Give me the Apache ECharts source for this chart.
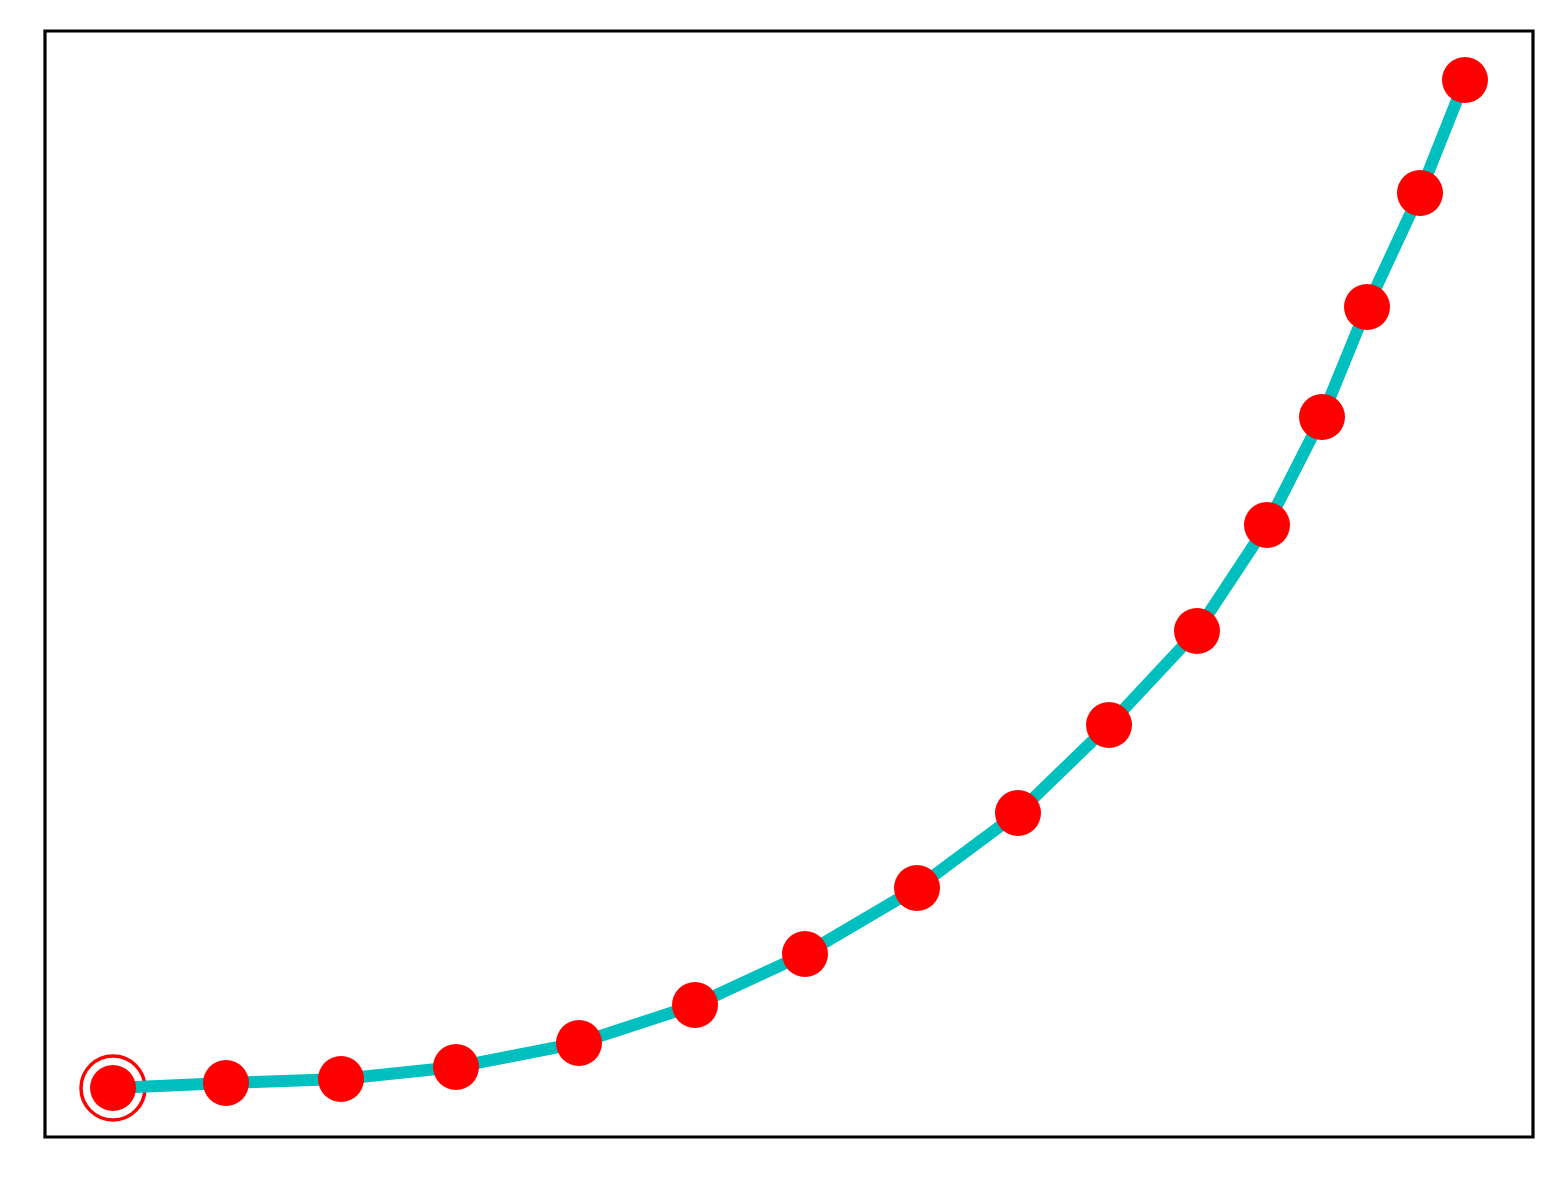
<!DOCTYPE html>
<html>
<head>
<meta charset="utf-8">
<script src="https://cdn.jsdelivr.net/npm/echarts@6/dist/echarts.min.js"></script>
<style>
  html, body { margin: 0; padding: 0; background: #fff; }
  #chart { width: 1562px; height: 1183px; }
</style>
</head>
<body>
<div id="chart"></div>
<script>
// point positions (arbitrary units, no ticks shown)
const xValues = [68, 181, 296, 411, 534, 650, 760, 872, 973, 1064, 1152, 1222, 1277, 1322, 1375, 1420];
const yValues = [49, 54, 58, 70, 94, 132, 183, 249, 324, 412, 506, 612, 720, 830, 944, 1057];
const startPoint = [xValues[0], yValues[0]];

const myChart = echarts.init(document.getElementById("chart"));

const hiddenAxis = {
    type: 'value',
    axisLine: { show: false },
    axisTick: { show: false },
    axisLabel: { show: false },
    splitLine: { show: false }
};

const option = {
    animation: false,
    backgroundColor: '#fff',
    grid: {
        left: 45,
        top: 31,
        right: 29,
        bottom: 46,
        show: true,
        borderColor: '#000',
        borderWidth: 3.2,
        backgroundColor: 'transparent'
    },
    xAxis: Object.assign({}, hiddenAxis, { min: 0, max: 1488 }),
    yAxis: Object.assign({}, hiddenAxis, { min: 0, max: 1106 }),
    series: [
        {
            type: 'scatter',
            data: [startPoint],
            symbol: 'circle',
            symbolSize: 64,
            z: 1,
            itemStyle: {
                color: 'transparent',
                borderColor: '#ff0000',
                borderWidth: 3.5,
                opacity: 1
            }
        },
        {
            type: 'line',
            data: xValues.map((x, i) => [x, yValues[i]]),
            symbol: 'circle',
            symbolSize: 46,
            showSymbol: true,
            z: 2,
            lineStyle: {
                color: '#00bfbf',
                width: 12
            },
            itemStyle: {
                color: '#ff0000',
                borderWidth: 0
            }
        }
    ]
};

myChart.setOption(option);
</script>
</body>
</html>
